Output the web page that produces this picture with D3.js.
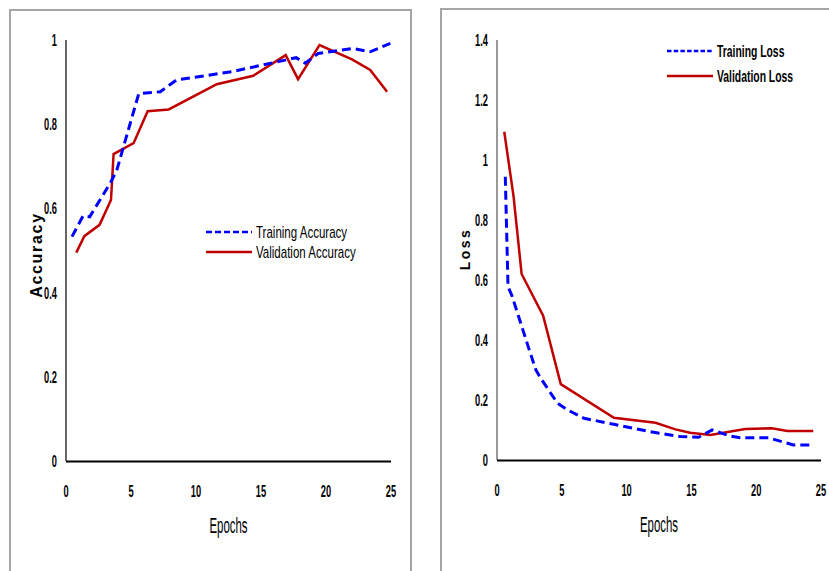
<!DOCTYPE html>
<html>
<head>
<meta charset="utf-8">
<script src="https://cdn.jsdelivr.net/npm/d3@7/dist/d3.min.js"></script>
<style>
  body { margin: 0; background: #fff; }
  text { fill: #000; font-family: "Liberation Sans", Arial, sans-serif; }
  .tick-lbl { font-size: 16px; font-weight: bold; }
  .leg-lbl { font-size: 16px; }
  .leg-lbl-b { font-size: 17px; font-weight: bold; }
  .ttl { font-size: 22px; }
  .ylab { font-weight: bold; }
</style>
</head>
<body>
<svg id="chart" width="829" height="571"></svg>
<script>
"use strict";

// accuracy panel
var trainAccEpochs = [0.46, 1.31, 1.82, 3.4, 3.9, 5.6, 7.25, 8.5, 12.8, 17.7, 18.4, 19.4, 22.1, 23.4, 24.95];
var trainAcc       = [0.533, 0.582, 0.58, 0.66, 0.69, 0.873, 0.877, 0.905, 0.925, 0.958, 0.945, 0.968, 0.98, 0.972, 0.992];
var valAccEpochs   = [0.79, 1.41, 2.58, 3.46, 3.66, 5.2, 6.28, 7.9, 11.6, 14.4, 16.9, 17.85, 19.5, 22.0, 23.4, 24.7];
var valAcc         = [0.495, 0.534, 0.561, 0.62, 0.729, 0.755, 0.831, 0.835, 0.895, 0.915, 0.964, 0.907, 0.988, 0.954, 0.929, 0.877];

// loss panel
var trainLossEpochs = [0.64, 0.85, 1.15, 2.49, 3.0, 3.38, 4.67, 5.44, 6.72, 9.02, 11.85, 14.15, 15.56, 16.6, 18.0, 18.77, 20.95, 22.87, 24.4];
var trainLoss       = [0.944, 0.578, 0.548, 0.367, 0.3, 0.272, 0.189, 0.167, 0.139, 0.119, 0.094, 0.078, 0.076, 0.1, 0.08, 0.074, 0.074, 0.05, 0.05];
var valLossEpochs   = [0.56, 1.28, 1.9, 3.56, 4.92, 9.02, 12.23, 13.77, 14.9, 16.46, 19.15, 21.2, 22.4, 24.4];
var valLoss         = [1.094, 0.878, 0.62, 0.481, 0.253, 0.141, 0.124, 0.102, 0.091, 0.083, 0.103, 0.106, 0.097, 0.097];

var xTicks = [0, 5, 10, 15, 20, 25];
var accTicks = [0, 0.2, 0.4, 0.6, 0.8, 1];
var lossTicks = [0, 0.2, 0.4, 0.6, 0.8, 1, 1.2, 1.4];

var BLUE = "#0000ff";
var RED = "#c00000";

var svg = d3.select("#chart");

// squeezed text, the source picture is narrow
function sText(parent, x, y, str, cls, anchor, sx) {
  return parent.append("text").attr("class", cls)
    .attr("transform", "translate(" + x + "," + y + ") scale(" + sx + ",1)")
    .attr("text-anchor", anchor).text(str);
}

// panel frames
svg.append("rect").attr("x", 10).attr("y", 10).attr("width", 401).attr("height", 580)
  .attr("fill", "none").attr("stroke", "#a6a6a6").attr("stroke-width", 2);
svg.append("rect").attr("x", 441).attr("y", 9).attr("width", 420).attr("height", 580)
  .attr("fill", "none").attr("stroke", "#a6a6a6").attr("stroke-width", 2);

function drawPanel(p) {
  var x = d3.scaleLinear().domain([0, 25]).range([p.x0, p.x1]);
  var y = d3.scaleLinear().domain([0, p.ymax]).range([p.y0, p.y1]);
  var g = svg.append("g");

  // y axis line
  g.append("line").attr("x1", p.x0).attr("x2", p.x0).attr("y1", y(0)).attr("y2", y(p.ymax))
    .attr("stroke", p.yAxisColor).attr("stroke-width", 1.2);
  // x axis line
  g.append("line").attr("x1", p.x0).attr("x2", p.x1).attr("y1", y(0) + 0.5).attr("y2", y(0) + 0.5)
    .attr("stroke", "#000").attr("stroke-width", 2.2);

  p.yTicks.forEach(function(d) {
    sText(g, p.x0 - 9, y(d) + 6, d3.format("~g")(d), "tick-lbl", "end", 0.58);
  });
  xTicks.forEach(function(d) {
    sText(g, x(d), y(0) + 36, d, "tick-lbl", "middle", 0.58);
  });

  sText(g, (p.x0 + p.x1) / 2, y(0) + 72, "Epochs", "ttl", "middle", 0.52);

  g.append("text").attr("class", "ylab")
    .attr("transform", "translate(" + p.ylabX + "," + p.ylabY + ") rotate(-90)")
    .attr("text-anchor", "middle").attr("dy", "0.35em")
    .style("font-size", p.ylabSize + "px").style("letter-spacing", p.ylabSpace + "px")
    .text(p.ylabel);

  var line = d3.line().x(function(d) { return x(d[0]); }).y(function(d) { return y(d[1]); });

  g.append("path").datum(d3.zip(p.valX, p.valY))
    .attr("d", line).attr("fill", "none").attr("stroke", RED)
    .attr("stroke-width", 2.5).attr("stroke-linejoin", "miter");
  g.append("path").datum(d3.zip(p.trainX, p.trainY))
    .attr("d", line).attr("fill", "none").attr("stroke", BLUE)
    .attr("stroke-width", 3).attr("stroke-dasharray", "9,5");

  // legend
  var lg = g.append("g").attr("transform", "translate(" + p.legX + "," + p.legY + ")");
  lg.append("line").attr("x1", 0).attr("x2", 46).attr("y1", 0).attr("y2", 0)
    .attr("stroke", BLUE).attr("stroke-width", p.legDashW).attr("stroke-dasharray", p.legDash);
  sText(lg, 50, p.legBase, p.trainLabel, p.legCls, "start", p.legSx);
  lg.append("line").attr("x1", 0).attr("x2", 46).attr("y1", p.legGap).attr("y2", p.legGap)
    .attr("stroke", RED).attr("stroke-width", 2.5);
  sText(lg, 50, p.legGap + p.legBase, p.valLabel, p.legCls, "start", p.legSx);
}

drawPanel({
  x0: 66, x1: 391, y0: 461, y1: 40, ymax: 1, yTicks: accTicks, yAxisColor: "#000",
  ylabel: "Accuracy", ylabX: 36, ylabY: 255, ylabSize: 16, ylabSpace: 1.7,
  trainX: trainAccEpochs, trainY: trainAcc, valX: valAccEpochs, valY: valAcc,
  legX: 206, legY: 232, legGap: 20, legDash: "6,3", legDashW: 2.5,
  legCls: "leg-lbl", legSx: 0.72, legBase: 5.5,
  trainLabel: "Training Accuracy", valLabel: "Validation Accuracy"
});

drawPanel({
  x0: 497, x1: 821, y0: 460, y1: 40, ymax: 1.4, yTicks: lossTicks, yAxisColor: "#555",
  ylabel: "Loss", ylabX: 465, ylabY: 249, ylabSize: 14, ylabSpace: 2.5,
  trainX: trainLossEpochs, trainY: trainLoss, valX: valLossEpochs, valY: valLoss,
  legX: 667, legY: 51, legGap: 25, legDash: "4.5,2.2", legDashW: 2.5,
  legCls: "leg-lbl-b", legSx: 0.61, legBase: 6,
  trainLabel: "Training Loss", valLabel: "Validation Loss"
});
</script>
</body>
</html>
